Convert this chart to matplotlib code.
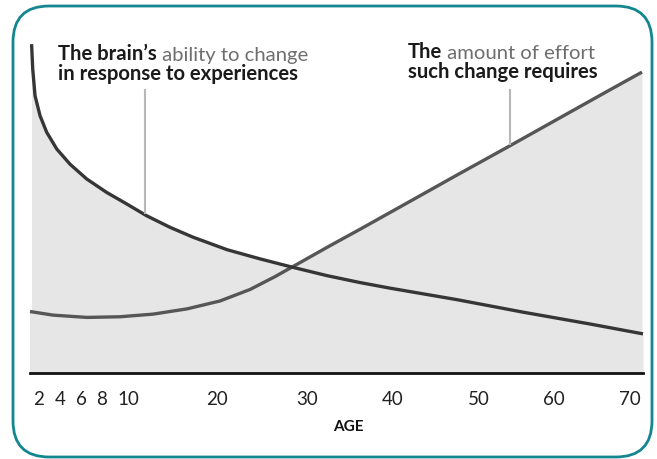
import numpy as np
import matplotlib
matplotlib.use("Agg")
import matplotlib.pyplot as plt
from matplotlib.patches import FancyBboxPatch

# tick ages and where they sit along the axis (the original axis is hand-spaced)
tick_ages = [2, 4, 6, 8, 10, 20, 30, 40, 50, 60, 70]
scale_ages = [0, 2, 4, 6, 8, 10, 20, 30, 40, 50, 60, 70, 80]
scale_pos = [18, 39, 60, 81, 102, 128, 217, 307, 393, 479, 554, 630, 706]

# brain's ability to change (relative units, 0 = axis)
brain_age = [1.29, 1.40, 1.62, 2.10, 2.73, 3.69, 4.95, 6.54, 8.36, 9.90, 12.10, 14.72,
             17.30, 21.11, 24.78, 28.33, 32.33, 36.16, 39.65, 47.44, 55.87, 64.74, 71.71]
brain_val = [100.0, 92.4, 84.3, 78.2, 73.2, 68.1, 63.5, 59.0, 54.9, 51.4, 47.8, 44.3,
             41.3, 37.5, 34.7, 32.2, 29.6, 27.5, 25.8, 22.3, 18.5, 14.9, 11.9]

# effort that such change requires
effort_age = [1.14, 3.33, 6.57, 9.38, 12.81, 16.63, 20.33, 23.67, 26.44, 28.33,
              32.67, 36.16, 41.98, 47.44, 54.13, 60.39, 66.97, 71.58]
effort_val = [18.7, 17.6, 16.9, 17.1, 17.9, 19.5, 21.9, 25.4, 29.3, 32.2,
              38.7, 43.7, 52.2, 60.2, 69.1, 77.1, 85.6, 91.5]

W, H = 657, 460
fig = plt.figure(figsize=(W / 100, H / 100), dpi=100)

# rounded teal frame
frame = FancyBboxPatch((13 / W, 1 - 458 / H), (652 - 13) / W, (458 - 7) / H,
                       boxstyle="round,pad=0,rounding_size=0.055",
                       transform=fig.transFigure, fill=False,
                       edgecolor="#13868f", linewidth=2, mutation_aspect=W / H)
fig.patches.append(frame)

ax = fig.add_axes([30 / W, 1 - 374 / H, (643 - 30) / W, (374 - 30) / H])


def fwd(a):
    return np.interp(a, scale_ages, scale_pos)


def inv(p):
    return np.interp(p, scale_pos, scale_ages)


ax.set_xscale("function", functions=(fwd, inv))
ax.set_xlim(1.14, 71.71)
ax.set_ylim(0, 104.6)

fill_col = "#e6e6e6"
ax.fill_between(brain_age, brain_val, 0, color=fill_col, linewidth=0)
ax.fill_between(effort_age, effort_val, 0, color=fill_col, linewidth=0)
ax.fill_between([1.14, 1.29], [18.7, 18.7], 0, color=fill_col, linewidth=0)
ax.fill_between([71.58, 71.71], [11.9, 11.9], 0, color=fill_col, linewidth=0)

ax.plot(effort_age, effort_val, color="#565656", lw=2.4, solid_capstyle="butt",
        solid_joinstyle="round", clip_on=False)
ax.plot(brain_age, brain_val, color="#363636", lw=2.4, solid_capstyle="butt",
        solid_joinstyle="round", clip_on=False)

# pointer lines
ax.plot([11.91, 11.91], [86.0, 48.6], color="#b8b8b8", lw=1.5)
ax.plot([54.13, 54.13], [85.9, 69.6], color="#b8b8b8", lw=1.5)

for s in ["top", "right", "left"]:
    ax.spines[s].set_visible(False)
ax.spines["bottom"].set_color("#111111")
ax.spines["bottom"].set_linewidth(2)
ax.set_yticks([])
ax.set_xticks(tick_ages)
ax.set_xticklabels([str(a) for a in tick_ages], fontsize=13.5, color="#222222", family="Lato")
ax.tick_params(axis="x", length=0, pad=12)
ax.set_xlabel("AGE", fontsize=11, fontweight="bold", family="Lato", color="#111111", va="center")
ax.xaxis.set_label_coords((348 - 30) / 613, -(427 - 374) / 344)
ax.patch.set_alpha(0)

fs = 14.6
grey = "#6e6e6e"
t1 = fig.text(58 / W, 1 - 60 / H, "The brain\u2019s", fontsize=fs, fontweight="bold",
              family="Lato", color="#1a1a1a", va="baseline")
ax.annotate(" ability to change", xy=(1, 0), xycoords=t1, fontsize=fs, family="Lato",
            color=grey, va="bottom", annotation_clip=False)
fig.text(58 / W, 1 - 80 / H, "in response to experiences", fontsize=fs, fontweight="bold",
         family="Lato", color="#1a1a1a", va="baseline")

t2 = fig.text(408 / W, 1 - 58 / H, "The", fontsize=fs, fontweight="bold",
              family="Lato", color="#1a1a1a", va="baseline")
ax.annotate(" amount of effort", xy=(1, 0), xycoords=t2, fontsize=fs, family="Lato",
            color=grey, va="bottom", annotation_clip=False)
fig.text(408 / W, 1 - 78 / H, "such change requires", fontsize=fs, fontweight="bold",
         family="Lato", color="#1a1a1a", va="baseline")

fig.savefig("out.png", dpi=100)
